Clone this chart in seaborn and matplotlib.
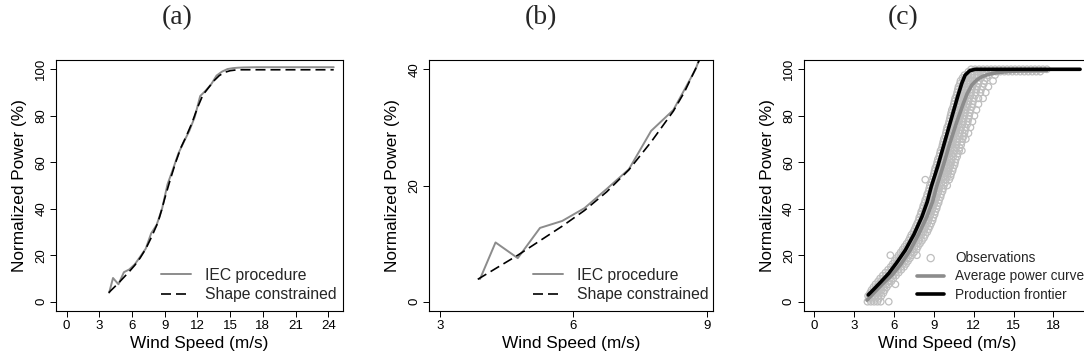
import matplotlib
matplotlib.use("Agg")
import matplotlib.pyplot as plt
import seaborn as sns
import pandas as pd

# ---- panel (a)/(b): binned IEC curve and shape-constrained fit ----
iec_speed = [3.9, 4.25, 4.75, 5.25, 5.75, 6.25, 6.75, 7.25, 7.75, 8.25, 8.75,
             9.25, 9.75, 10.25, 10.75, 11.25, 11.75, 12.25, 12.75, 13.25, 13.75,
             14.25, 14.75, 15.25, 15.75, 16.25, 17.5, 20.0, 22.5, 24.5]
iec_power = [3.9, 10.2, 7.5, 12.7, 13.9, 16.1, 19.4, 22.8, 29.4, 33.0, 40.0,
             50.5, 57.0, 63.8, 68.8, 73.5, 79.5, 88.5, 90.8, 93.5, 97.3,
             99.0, 100.1, 100.5, 100.7, 100.8, 100.9, 100.9, 100.9, 100.9]

shape_speed = [3.85, 4.25, 4.75, 5.25, 5.75, 6.25, 6.75, 7.25, 7.75, 8.25, 8.5,
               8.75, 9.0, 9.5, 10.0, 10.5, 11.0, 11.5, 12.0, 12.5, 13.0, 13.5,
               14.0, 14.5, 15.0, 15.5, 16.0, 20.0, 24.5]
shape_power = [3.85, 5.7, 8.0, 10.5, 13.0, 15.7, 18.9, 22.7, 27.5, 32.8, 36.1,
               40.1, 44.5, 52.5, 60.0, 66.5, 71.5, 77.0, 83.5, 89.0, 92.0, 95.0,
               97.3, 98.7, 99.4, 99.7, 99.8, 99.8, 99.8]

# ---- panel (c): average curve and production frontier ----
frontier_speed = [4.05, 4.5, 5.0, 5.6, 6.2, 6.85, 7.5, 8.1, 8.5, 8.8, 9.3, 9.8,
                  10.3, 10.8, 11.1, 11.35, 11.7, 12.1, 20.0]
frontier_power = [2.9, 5.5, 8.5, 12.2, 16.8, 22.2, 29.0, 36.6, 43.0, 49.5, 58.5,
                  68.5, 78.5, 88.5, 94.0, 97.5, 99.4, 100.0, 100.0]

average_speed = [3.97, 4.6, 5.2, 5.85, 6.5, 7.22, 7.85, 8.47, 8.9, 9.2, 9.7, 10.2,
                 10.7, 11.22, 11.5, 11.85, 12.2, 12.6, 13.1, 13.7, 14.5, 15.5, 17.5]
average_power = [0.7, 4.5, 8.0, 11.5, 16.0, 22.2, 29.0, 36.6, 43.0, 49.5, 58.5, 68.2,
                 77.0, 85.4, 89.5, 93.2, 95.3, 96.8, 97.8, 98.5, 99.0, 99.3, 99.5]

# observations, read row by row (power level -> wind speeds seen at that level)
obs_level = [0, 1.25, 2.5, 3.75, 5, 6.25, 7.5, 8.75, 10, 11.25, 12.5, 13.75,
             15, 16.25, 17.5, 18.75, 20, 21.25, 22.5, 23.75, 25, 26.25, 27.5,
             28.75, 30, 31.25, 32.5, 33.75, 35, 36.25, 37.5, 38.75, 40, 41.25,
             42.5, 43.75, 45, 46.25, 47.5, 48.75, 50, 51.25, 52.5, 53.75, 55,
             56.25, 57.5, 58.75, 60, 61.25, 62.5, 63.75, 65, 66.25, 67.5, 68.75,
             70, 71.25, 72.5, 73.75, 75, 76.25, 77.5, 78.75, 80, 81.25, 82.5,
             83.75, 85, 86.25, 87.5, 88.75, 90, 91.25, 92.5, 93.75, 95, 96.25,
             97.5, 99, 100]
obs_speed = [
    [4.0, 4.25, 4.5, 4.75, 5.0, 5.6],
    [4.1, 4.35, 4.6, 4.85],
    [4.05, 4.3, 4.55, 4.8, 5.05],
    [4.2, 4.45, 4.7, 4.95, 5.2],
    [4.3, 4.55, 4.8, 5.05, 5.3],
    [4.45, 4.7, 4.95, 5.2, 5.45],
    [4.6, 4.85, 5.1, 5.35, 5.6, 6.1],
    [4.8, 5.05, 5.3, 5.55, 5.8],
    [4.95, 5.2, 5.45, 5.7, 5.95],
    [5.15, 5.4, 5.65, 5.9, 6.15],
    [5.35, 5.6, 5.85, 6.1, 6.35],
    [5.55, 5.8, 6.05, 6.3, 6.55],
    [5.75, 6.0, 6.25, 6.5, 6.75],
    [5.9, 6.15, 6.4, 6.65, 6.9],
    [6.05, 6.3, 6.55, 6.8, 7.05],
    [6.2, 6.45, 6.7, 6.95, 7.2],
    [5.72, 6.35, 6.6, 6.85, 7.1, 7.35, 7.72],
    [6.5, 6.75, 7.0, 7.25, 7.5],
    [6.65, 6.9, 7.15, 7.4, 7.7],
    [6.8, 7.05, 7.3, 7.55, 7.8],
    [6.95, 7.2, 7.45, 7.7, 7.95],
    [7.1, 7.35, 7.6, 7.85, 8.1],
    [7.2, 7.45, 7.7, 7.95, 8.25],
    [7.3, 7.55, 7.8, 8.05, 8.35],
    [7.45, 7.7, 7.95, 8.2, 8.5],
    [7.55, 7.8, 8.05, 8.3, 8.6],
    [7.65, 7.9, 8.15, 8.4, 8.7],
    [7.75, 8.0, 8.25, 8.5, 8.8],
    [7.85, 8.1, 8.35, 8.6, 8.9],
    [7.9, 8.15, 8.4, 8.65, 8.95],
    [8.0, 8.25, 8.5, 8.75, 9.05],
    [8.05, 8.3, 8.55, 8.8, 9.1],
    [8.15, 8.4, 8.65, 8.9, 9.2],
    [8.2, 8.45, 8.7, 8.95, 9.25],
    [8.3, 8.55, 8.8, 9.05, 9.35],
    [8.35, 8.6, 8.85, 9.1, 9.4],
    [8.45, 8.7, 8.95, 9.2, 9.5],
    [8.5, 8.75, 9.0, 9.25, 9.55],
    [8.6, 8.85, 9.1, 9.35, 9.65],
    [8.65, 8.9, 9.15, 9.4, 9.7],
    [8.7, 8.95, 9.2, 9.45, 9.75, 10.0],
    [8.8, 9.05, 9.3, 9.55, 9.85],
    [8.35, 8.85, 9.1, 9.35, 9.6, 9.9, 10.15],
    [8.95, 9.2, 9.45, 9.7, 10.0, 10.25],
    [9.0, 9.25, 9.5, 9.75, 10.05, 10.3],
    [9.05, 9.3, 9.55, 9.8, 10.1, 10.4],
    [9.1, 9.35, 9.6, 9.85, 10.15, 10.45],
    [9.2, 9.45, 9.7, 9.95, 10.25, 10.55],
    [9.25, 9.5, 9.75, 10.0, 10.3, 10.6],
    [9.3, 9.55, 9.8, 10.05, 10.35, 10.65],
    [9.4, 9.65, 9.9, 10.15, 10.45, 10.75],
    [9.45, 9.7, 9.95, 10.2, 10.5, 10.8],
    [9.5, 9.75, 10.0, 10.25, 10.55, 10.9, 11.1],
    [9.6, 9.85, 10.1, 10.35, 10.65, 10.95],
    [9.65, 9.9, 10.15, 10.4, 10.7, 11.05],
    [9.7, 9.95, 10.2, 10.45, 10.75, 11.1],
    [9.75, 10.0, 10.25, 10.5, 10.8, 11.15, 11.4],
    [9.85, 10.1, 10.35, 10.6, 10.9, 11.25],
    [9.9, 10.15, 10.4, 10.65, 10.95, 11.3, 11.6],
    [9.95, 10.2, 10.45, 10.7, 11.0, 11.35],
    [10.0, 10.25, 10.5, 10.75, 11.05, 11.4, 11.75],
    [10.1, 10.35, 10.6, 10.85, 11.15, 11.5],
    [10.15, 10.4, 10.65, 10.9, 11.2, 11.55, 11.9],
    [10.2, 10.45, 10.7, 10.95, 11.25, 11.6],
    [10.25, 10.5, 10.75, 11.0, 11.3, 11.65, 12.05],
    [10.3, 10.55, 10.8, 11.05, 11.35, 11.7],
    [10.35, 10.6, 10.85, 11.1, 11.4, 11.75, 12.2],
    [10.45, 10.7, 10.95, 11.2, 11.5, 11.85],
    [10.5, 10.75, 11.0, 11.25, 11.55, 11.9, 12.35],
    [10.55, 10.8, 11.05, 11.3, 11.6, 11.95],
    [10.6, 10.85, 11.1, 11.35, 11.65, 12.0, 12.35, 12.7],
    [10.7, 10.95, 11.2, 11.45, 11.75, 12.1],
    [10.75, 11.0, 11.25, 11.5, 11.8, 12.15, 12.5, 12.9],
    [10.8, 11.05, 11.3, 11.55, 11.85, 12.2, 12.55],
    [10.85, 11.1, 11.35, 11.6, 11.9, 12.25, 12.65, 13.1],
    [10.95, 11.2, 11.45, 11.7, 12.0, 12.35, 12.75],
    [11.0, 11.25, 11.5, 11.75, 12.05, 12.4, 12.8, 13.45],
    [11.15, 11.4, 11.65, 11.9, 12.2, 12.55, 12.95],
    [11.3, 11.55, 11.8, 12.05, 12.35, 12.7, 13.1, 13.6],
    [11.6, 11.9, 12.2, 12.5, 12.8, 13.1, 13.4, 13.7, 14.0, 14.3, 14.6, 14.9,
     15.2, 15.5, 15.8, 16.1, 16.4, 16.7, 17.0],
    [11.8, 12.1, 12.4, 12.7, 13.0, 13.3, 13.6, 13.9, 14.2, 14.5, 14.8, 15.1,
     15.4, 15.7, 16.0, 16.3, 16.6, 16.9, 17.2, 17.5],
]

obs = pd.DataFrame(
    [(s, p) for p, row in zip(obs_level, obs_speed) for s in row],
    columns=["speed", "power"],
)

# ==========================================
# Style
# ==========================================
sns.set_theme(style="ticks")
plt.rcParams["font.family"] = ["Liberation Sans", "DejaVu Sans"]
plt.rcParams.update({
    "axes.linewidth": 0.8,
    "axes.edgecolor": "black",
    "xtick.major.size": 4.3,
    "ytick.major.size": 4.3,
    "xtick.major.width": 0.7,
    "ytick.major.width": 0.7,
    "xtick.color": "black",
    "ytick.color": "black",
    "xtick.labelsize": 9.5,
    "ytick.labelsize": 9.5,
    "xtick.major.pad": 2.0,
    "ytick.major.pad": 2.0,
    "axes.labelsize": 12.4,
    "axes.labelcolor": "black",
})

GRAY = "#8C8C8C"
LIGHT = "#BEBEBE"

W, H = 1084, 362
fig = plt.figure(figsize=(W / 100, H / 100), dpi=100)


def px_axes(left, right):
    top, bottom = 60, 311
    return fig.add_axes([left / W, (H - bottom) / H, (right - left) / W, (bottom - top) / H])


ax_a = px_axes(56, 343)
ax_b = px_axes(429.3, 712.7)
ax_c = px_axes(803.7, 1090.7)


def style_axes(ax):
    for side in ["top", "right", "left", "bottom"]:
        ax.spines[side].set_visible(True)
    ax.set_xlabel("Wind Speed (m/s)", labelpad=3)
    ax.set_ylabel("Normalized Power (%)", labelpad=6)
    plt.setp(ax.get_yticklabels(), rotation=90, va="center")


# (a) full range
sns.lineplot(x=iec_speed, y=iec_power, ax=ax_a, color=GRAY, lw=1.4,
             sort=False, estimator=None, label="IEC procedure")
sns.lineplot(x=shape_speed, y=shape_power, ax=ax_a, color="black", lw=1.2,
             sort=False, estimator=None, label="Shape constrained")
ax_a.lines[-1].set_dashes((6, 3))
ax_a.set_xlim(-0.98, 25.35)
ax_a.set_ylim(-4, 104)
ax_a.set_xticks(range(0, 25, 3))
ax_a.set_yticks(range(0, 101, 20))

# (b) zoom on the low-speed part
sns.lineplot(x=iec_speed, y=iec_power, ax=ax_b, color=GRAY, lw=1.4,
             sort=False, estimator=None, label="IEC procedure")
sns.lineplot(x=shape_speed, y=shape_power, ax=ax_b, color="black", lw=1.2,
             sort=False, estimator=None, label="Shape constrained")
ax_b.lines[-1].set_dashes((6, 3))
ax_b.set_xlim(2.76, 9.135)
ax_b.set_ylim(-1.6, 41.6)
ax_b.set_xticks([3, 6, 9])
ax_b.set_yticks([0, 20, 40])

for ax in (ax_a, ax_b):
    style_axes(ax)
    ax.legend(loc="lower left", bbox_to_anchor=(0.366, 0.035), frameon=False,
              fontsize=11.3, handlelength=1.9, handletextpad=0.9,
              labelspacing=0.3, borderpad=0, borderaxespad=0)

# (c) observations, average curve and frontier
sns.scatterplot(data=obs, x="speed", y="power", ax=ax_c, marker="o", s=22,
                color=LIGHT, facecolors="none", edgecolors=LIGHT, linewidth=0.9,
                label="Observations")
sns.lineplot(x=average_speed, y=average_power, ax=ax_c, color=GRAY, lw=2.6,
             sort=False, estimator=None, label="Average power curve")
sns.lineplot(x=frontier_speed, y=frontier_power, ax=ax_c, color="black", lw=2.6,
             sort=False, estimator=None, label="Production frontier")
ax_c.set_xlim(-0.8, 20.8)
ax_c.set_ylim(-4, 104)
ax_c.set_xticks(range(0, 19, 3))
ax_c.set_yticks(range(0, 101, 20))
style_axes(ax_c)
handles, labels = ax_c.get_legend_handles_labels()
order = [labels.index(n) for n in ["Observations", "Average power curve", "Production frontier"]]
ax_c.legend([handles[i] for i in order], [labels[i] for i in order],
            loc="lower left", bbox_to_anchor=(0.395, 0.035), frameon=False,
            fontsize=9.8, handlelength=2.0, handletextpad=0.8, markerscale=1.1,
            labelspacing=0.35, borderpad=0, borderaxespad=0)

for x, t in [(0.163, "(a)"), (0.499, "(b)"), (0.833, "(c)")]:
    fig.text(x, 1 - 18 / H, t, ha="center", va="center",
             family=["Liberation Serif", "DejaVu Serif"], fontsize=20)

fig.savefig("out.png", dpi=100)
